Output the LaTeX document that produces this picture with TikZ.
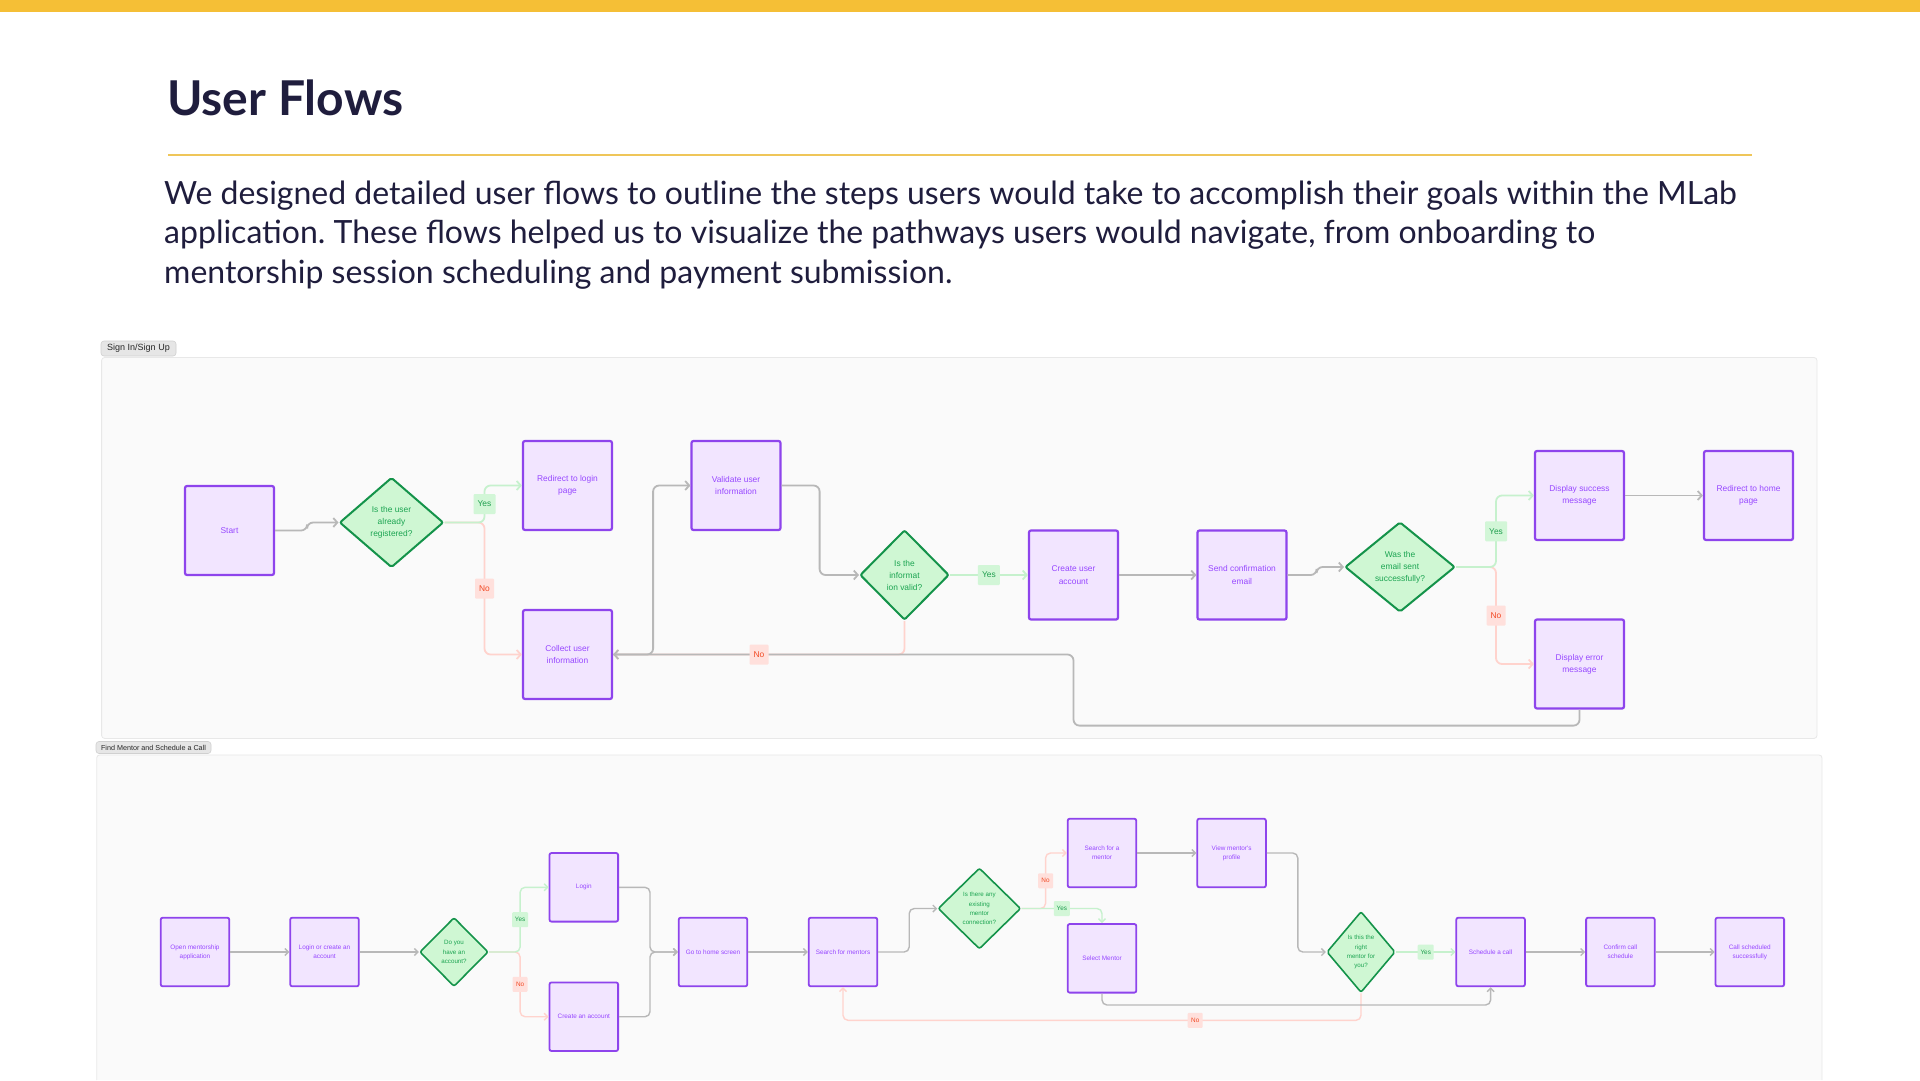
\documentclass[tikz,border=0pt]{standalone}
\usepackage{fontspec}
\setmainfont{Lato}
\newfontfamily\uifont{Liberation Sans}
\usetikzlibrary{shapes.geometric,arrows.meta}
\frenchspacing

\definecolor{barYellow}{HTML}{F5BF36}
\definecolor{ruleYellow}{HTML}{EFC659}
\definecolor{ink}{HTML}{1F1D3D}
\definecolor{panelFill}{HTML}{FAFAFA}
\definecolor{panelLine}{HTML}{E8E8E8}
\definecolor{tagFill}{HTML}{E6E6E6}
\definecolor{tagLine}{HTML}{D0D0D0}
\definecolor{boxFill}{HTML}{F2E5FF}
\definecolor{boxLine}{HTML}{8E44EC}
\definecolor{boxText}{HTML}{9747FF}
\definecolor{decFill}{HTML}{CFF7D3}
\definecolor{decLine}{HTML}{14934A}
\definecolor{decText}{HTML}{1BA451}
\definecolor{flowGrey}{HTML}{B8B8B8}
\definecolor{yesLine}{HTML}{C6F1CD}
\definecolor{noLine}{HTML}{FFD3CD}
\definecolor{yesFill}{HTML}{D2F6D7}
\definecolor{yesText}{HTML}{1E9E4D}
\definecolor{noFill}{HTML}{FFE0DC}
\definecolor{noText}{HTML}{F24822}

\begin{document}
\begin{tikzpicture}[x=1pt,y=-1pt,
  stepbox/.style={draw=boxLine,fill=boxFill,text=boxText,rounded corners=2pt,align=center,inner sep=1pt},
  bigbox/.style={stepbox,line width=2.2pt,minimum width=89pt,minimum height=89pt,font=\uifont\fontsize{8.4}{12.3}\selectfont},
  smallbox/.style={stepbox,line width=1.8pt,minimum width=68.6pt,minimum height=68.6pt,font=\uifont\fontsize{6.4}{9.3}\selectfont},
  choice/.style={diamond,draw=decLine,fill=decFill,text=decText,rounded corners=2pt,align=center,inner sep=0pt,line width=2pt,font=\uifont\fontsize{8.4}{12}\selectfont},
  smallchoice/.style={choice,line width=1.6pt,font=\uifont\fontsize{6.2}{9.2}\selectfont},
  flow/.style={draw=flowGrey,line width=1.8pt,rounded corners=6pt,-{Straight Barb[length=4pt,width=9pt]}},
  thinflow/.style={flow,line width=1.4pt,rounded corners=5pt,-{Straight Barb[length=3.5pt,width=7pt]}},
  yesflow/.style={draw=yesLine},
  noflow/.style={draw=noLine},
  yestag/.style={fill=yesFill,text=yesText,rounded corners=1pt,inner sep=0pt,minimum width=22pt,minimum height=20pt,font=\uifont\fontsize{8.4}{10}\selectfont},
  notag/.style={fill=noFill,text=noText,rounded corners=1pt,inner sep=0pt,minimum width=19pt,minimum height=20pt,font=\uifont\fontsize{8.4}{10}\selectfont},
  smallyes/.style={yestag,minimum width=16pt,minimum height=15pt,font=\uifont\fontsize{6.4}{8}\selectfont},
  smallno/.style={notag,minimum width=15pt,minimum height=15pt,font=\uifont\fontsize{6.4}{8}\selectfont},
  paneltag/.style={fill=tagFill,draw=tagLine,line width=0.6pt,rounded corners=3pt,inner sep=0pt,text=black!85}]
\useasboundingbox (0,0) rectangle (1920,1080);
\fill[white] (0,0) rectangle (1920,1080);
\fill[barYellow] (0,0) rectangle (1920,12);

\node[anchor=base west,inner sep=0pt,text=ink,font=\bfseries\fontsize{48}{56}\selectfont] (title) at (167,115) {User Flows};
\draw[ruleYellow,line width=1.5pt] (168,155) -- (1752,155);
\node[anchor=base west,inner sep=0pt,text=ink,font=\fontsize{32}{40}\selectfont] (intro1) at (164,204)
  {We designed detailed user flows to outline the steps users would take to accomplish their goals within the MLab};
\node[anchor=base west,inner sep=0pt,text=ink,font=\fontsize{32}{40}\selectfont] (intro2) at (164,243.5)
  {application. These flows helped us to visualize the pathways users would navigate, from onboarding to};
\node[anchor=base west,inner sep=0pt,text=ink,font=\fontsize{32}{40}\selectfont] (intro3) at (164,283)
  {mentorship session scheduling and payment submission.};

% sign in / sign up
\filldraw[fill=panelFill,draw=panelLine,line width=0.8pt,rounded corners=3pt] (101.6,357.5) rectangle (1817,738.4);
\node[paneltag,minimum width=75pt,minimum height=15pt,font=\uifont\fontsize{9}{10}\selectfont] (signtag) at (138.5,348.5) {Sign In/Sign Up};

\node[bigbox] (start) at (229.5,530.5) {Start};
\node[choice,minimum width=104pt,minimum height=90pt] (q1) at (391.5,522.5) {Is the user\\already\\registered?};
\node[bigbox] (redir) at (567.5,485.5) {Redirect to login\\page};
\node[bigbox] (collect) at (567.5,654.5) {Collect user\\information};
\node[bigbox] (valid) at (736,485.5) {Validate user\\information};
\node[choice,minimum width=89pt,minimum height=90pt] (q2) at (904.5,575) {Is the\\informat\\ion valid?};
\node[bigbox] (create) at (1073.5,575) {Create user\\account};
\node[bigbox] (send) at (1242,575) {Send confirmation\\email};
\node[choice,minimum width=110pt,minimum height=90pt] (q3) at (1400,567) {Was the\\email sent\\successfully?};
\node[bigbox] (succ) at (1579.5,495.5) {Display success\\message};
\node[bigbox] (home) at (1748.5,495.5) {Redirect to home\\page};
\node[bigbox] (error) at (1579.5,664) {Display error\\message};

\draw[flow] (start.east) -- ++(32,0) |- (q1.west);
\draw[flow,noflow] (q1.east) -- ++(40,0) |- (collect.west) node[notag,pos=.25] (no1) {No};
\draw[flow,yesflow] (q1.east) -- ++(40,0) |- (redir.west) node[yestag,pos=.25] (yes1) {Yes};
\draw[flow,noflow] (q2.south) |- (collect.east);
\draw[flow] (error.south) -- ++(0,16) -| (create.south |- collect.east) -- (collect.east);
\draw[flow] (collect.east) -- ++(40,0) |- (valid.west);
\node[notag] (no2) at (759,654.5) {No};
\draw[flow] (valid.east) -- ++(38,0) |- (q2.west);
\draw[flow,yesflow] (q2.east) -- (create.west) node[yestag,pos=.5] (yes2) {Yes};
\draw[flow] (create.east) -- (send.west);
\draw[flow] (send.east) -- ++(29,0) |- (q3.west);
\draw[flow,noflow] (q3.east) -- ++(40,0) |- (error.west) node[notag,pos=.25] (no3) {No};
\draw[flow,yesflow] (q3.east) -- ++(40,0) |- (succ.west) node[yestag,pos=.25] (yes3) {Yes};
\draw[flow] (succ.east) -- (home.west);

% find mentor and schedule a call
\fill[panelFill] (96.7,755) rectangle (1822,1080);
\draw[panelLine,line width=0.8pt,rounded corners=3pt] (96.7,1080) -- (96.7,755) -- (1822,755) -- (1822,1080);
\node[paneltag,minimum width=115pt,minimum height=12pt,font=\uifont\fontsize{7.2}{8}\selectfont] (mentortag) at (153.5,747.5) {Find Mentor and Schedule a Call};

\node[smallbox] (open) at (195,952) {Open mentorship\\application};
\node[smallbox] (logc) at (324.5,952) {Login or create an\\account};
\node[smallchoice,minimum width=68.6pt,minimum height=69pt] (q4) at (454,952) {Do you\\have an\\account?};
\node[smallbox] (login) at (583.8,887.3) {Login};
\node[smallbox] (newacc) at (583.8,1016.7) {Create an account};
\node[smallbox] (homescr) at (713,952) {Go to home screen};
\node[smallbox] (searchm) at (843,952) {Search for mentors};
\node[smallchoice,minimum width=82.7pt,minimum height=81pt] (q5) at (979.4,908.5) {Is there any\\existing\\mentor\\connection?};
\node[smallbox] (sfm) at (1102,853) {Search for a\\mentor};
\node[smallbox] (selm) at (1102,958.3) {Select Mentor};
\node[smallbox] (view) at (1231.6,853) {View mentor's\\profile};
\node[smallchoice,minimum width=68.5pt,minimum height=81pt] (q6) at (1361,952) {Is this the\\right\\mentor for\\you?};
\node[smallbox] (sched) at (1490.6,952) {Schedule a call};
\node[smallbox] (confirm) at (1620.4,952) {Confirm call\\schedule};
\node[smallbox] (done) at (1749.8,952) {Call scheduled\\successfully};

\draw[thinflow] (open.east) -- (logc.west);
\draw[thinflow] (logc.east) -- (q4.west);
\draw[thinflow,noflow] (q4.east) -- ++(31,0) |- (newacc.west) node[smallno,pos=.25] (no4) {No};
\draw[thinflow,yesflow] (q4.east) -- ++(31,0) |- (login.west) node[smallyes,pos=.25] (yes4) {Yes};
\draw[thinflow] (login.east) -- ++(31,0) |- (homescr.west);
\draw[thinflow] (newacc.east) -- ++(31,0) |- (homescr.west);
\draw[thinflow] (homescr.east) -- (searchm.west);
\draw[thinflow] (searchm.east) -- ++(31,0) |- (q5.west);
\draw[thinflow,noflow] (q5.east) -- ++(24,0) |- (sfm.west) node[smallno,pos=.25] (no5) {No};
\draw[thinflow,yesflow] (q5.east) -| (selm.north) node[smallyes,pos=.25] (yes5) {Yes};
\draw[thinflow] (sfm.east) -- (view.west);
\draw[thinflow] (view.east) -- ++(31,0) |- (q6.west);
\draw[thinflow,noflow] (q6.south) -- ++(0,27) -| (searchm.south) node[smallno,pos=.16] (no6) {No};
\draw[thinflow] (selm.south) -- ++(0,11.5) -| (sched.south);
\draw[thinflow,yesflow] (q6.east) -- (sched.west) node[smallyes,pos=.5] (yes6) {Yes};
\draw[thinflow] (sched.east) -- (confirm.west);
\draw[thinflow] (confirm.east) -- (done.west);
\end{tikzpicture}
\end{document}
